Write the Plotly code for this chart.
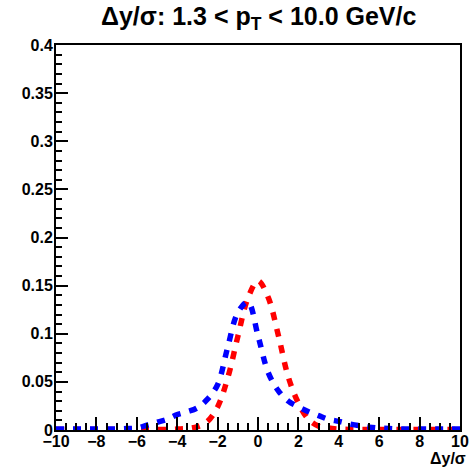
import plotly.graph_objects as go

x_vals = [-10, -9.5, -9, -8.5, -8, -7.5, -7, -6.5, -6, -5.5, -5, -4.5, -4, -3.5, -3, -2.5, -2, -1.5,
          -1, -0.5, 0, 0.5, 1, 1.5, 2, 2.5, 3, 3.5, 4, 4.5, 5, 5.5, 6, 6.5, 7, 7.5, 8, 8.5, 9, 9.5, 10]

red_vals = [0.0005, 0.0005, 0.0005, 0.0005, 0.0005, 0.0005, 0.0005, 0.0005, 0.0005, 0.0005, 0.0005, 0.0006,
            0.001, 0.0015, 0.0035, 0.009, 0.024, 0.054, 0.097, 0.137, 0.155, 0.138, 0.099, 0.055, 0.028,
            0.011, 0.004, 0.002, 0.001, 0.0006, 0.0005, 0.0005, 0.0005, 0.0005, 0.0005, 0.0005, 0.0005,
            0.0005, 0.0005, 0.0005, 0.0005]

blue_vals = [0.001, 0.001, 0.001, 0.001, 0.001, 0.001, 0.001, 0.0015, 0.002, 0.005, 0.008, 0.011,
             0.016, 0.019, 0.023, 0.032, 0.047, 0.086, 0.122, 0.133, 0.098, 0.060, 0.041, 0.030, 0.024,
             0.019, 0.015, 0.011, 0.009, 0.0065, 0.0045, 0.003, 0.002, 0.0015, 0.001, 0.001, 0.001,
             0.001, 0.001, 0.001, 0.001]

title_text = "Δy/σ: 1.3 < p<sub>T</sub> < 10.0 GeV/c"
x_title = "Δy/σ"

FONT = "Liberation Sans"

fig = go.Figure()
fig.add_trace(go.Scatter(x=x_vals, y=red_vals, mode="lines", line_shape="spline",
                         line=dict(color="#ff0000", width=5.5, dash="8px,9px"), showlegend=False))
fig.add_trace(go.Scatter(x=x_vals, y=blue_vals, mode="lines", line_shape="spline",
                         line=dict(color="#0000ff", width=5.5, dash="8px,9px"), showlegend=False))

fig.update_layout(
    width=471, height=469,
    margin=dict(l=56, r=11, t=45, b=39, autoexpand=False),
    paper_bgcolor="white", plot_bgcolor="white",
    font=dict(family=FONT, size=14, color="black"),
    xaxis=dict(range=[-10, 10], dtick=2, tick0=-10, ticks="inside", ticklen=13, tickwidth=2,
               tickcolor="black", showline=True, linecolor="black", linewidth=2, mirror=True,
               showgrid=False, zeroline=False, automargin=False, ticklabelstandoff=-4,
               ticklabeloverflow="allow",
               tickfont=dict(family=FONT, size=16, color="black", weight="bold"),
               minor=dict(dtick=0.5, tick0=-10, ticks="inside", ticklen=7, tickwidth=1.5, tickcolor="black", showgrid=False)),
    yaxis=dict(range=[0, 0.4], dtick=0.05, tick0=0, ticks="inside", ticklen=12, tickwidth=2,
               tickcolor="black", showline=True, linecolor="black", linewidth=2, mirror=True,
               showgrid=False, zeroline=False, automargin=False, ticklabelstandoff=-2,
               ticklabeloverflow="allow",
               tickfont=dict(family=FONT, size=16, color="black", weight="bold"),
               minor=dict(dtick=0.01, tick0=0, ticks="inside", ticklen=6, tickwidth=1.5, tickcolor="black", showgrid=False)),
    annotations=[
        dict(text=title_text, x=0.5, y=1.07, xref="paper", yref="paper", xanchor="center", yanchor="middle",
             showarrow=False, font=dict(family=FONT, size=25, color="black", weight="bold")),
        dict(text=x_title, x=1.0, y=-0.073, xref="paper", yref="paper", xanchor="right", yanchor="middle",
             xshift=8, showarrow=False, font=dict(family=FONT, size=16, color="black", weight="bold")),
    ],
)

fig.write_html("out.html", config={"displayModeBar": False},
               post_script="document.body.style.margin='0px';document.body.style.overflow='hidden';")
